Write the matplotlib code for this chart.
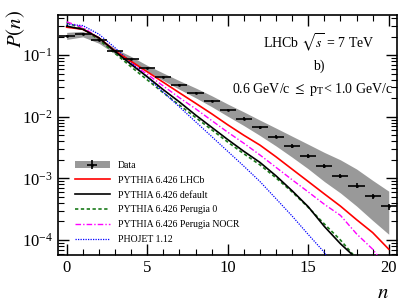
import numpy as np
import matplotlib
matplotlib.use("Agg")
import matplotlib.pyplot as plt
from matplotlib.patches import Patch
from matplotlib.ticker import MultipleLocator, LogLocator, NullFormatter

plt.rcParams['font.family'] = ['Liberation Serif', 'DejaVu Serif']
plt.rcParams['mathtext.fontset'] = 'stix'

# multiplicity n
n = np.arange(0, 21)

# LHCb data, P(n)
data = [0.206, 0.22, 0.173, 0.116, 0.085, 0.061, 0.0446, 0.0327, 0.0245, 0.0179,
        0.0128, 0.0093, 0.0067, 0.00474, 0.00335, 0.00231, 0.00159, 0.0011,
        0.00076, 0.00051, 0.00035]
data_err = [0.006, 0.006, 0.005, 0.003, 0.0025, 0.002, 0.0015, 0.0012, 0.001, 0.0008,
            0.0006, 0.0005, 0.0004, 0.0003, 0.00022, 0.00016, 0.00012, 0.00009,
            0.00007, 0.00005, 0.00004]
# total uncertainty band
band_hi = [0.234, 0.243, 0.192, 0.128, 0.0953, 0.0684, 0.0512, 0.0385, 0.0294, 0.0220,
           0.0161, 0.0120, 0.00883, 0.00655, 0.00484, 0.00358, 0.00264, 0.0020,
           0.00142, 0.00093, 0.00062]
band_lo = [0.180, 0.198, 0.156, 0.105, 0.0757, 0.0543, 0.0388, 0.0279, 0.0204, 0.0146,
           0.0102, 0.0072, 0.00497, 0.00336, 0.00221, 0.00143, 0.00089, 0.00058,
           0.000356, 0.000208, 0.000124]

# generators
lhcb = [0.284, 0.263, 0.191, 0.117, 0.0794, 0.0537, 0.0363, 0.0245, 0.0166, 0.0112,
        0.00741, 0.00501, 0.00347, 0.00224, 0.00141, 0.00089, 0.00056, 0.000355,
        0.000214, 0.000132, 7.1e-5]
default = [0.295, 0.263, 0.191, 0.115, 0.0708, 0.0447, 0.0275, 0.0174, 0.0107, 0.00676,
           0.00427, 0.00275, 0.00182, 0.0011, 0.00063, 0.000347, 0.000166, 8.7e-5,
           5.0e-5, 2.0e-5, 8e-6]
perugia0 = [0.339, 0.269, 0.178, 0.107, 0.0646, 0.0398, 0.0245, 0.0155, 0.00977, 0.00617,
            0.00389, 0.00251, 0.00166, 0.00102, 0.000603, 0.000339, 0.000182, 0.0001,
            5.0e-5, 2.0e-5, 8e-6]
nocr = [0.347, 0.282, 0.191, 0.117, 0.0741, 0.0490, 0.0316, 0.0204, 0.0135, 0.00871,
        0.00562, 0.00372, 0.0024, 0.00151, 0.00095, 0.000603, 0.00038, 0.000251,
        0.000126, 7.1e-5, 3.2e-5]
phojet = [0.316, 0.302, 0.219, 0.132, 0.0759, 0.0437, 0.0251, 0.0145, 0.00832, 0.00479,
          0.00275, 0.00158, 0.00089, 0.000468, 0.000245, 0.000123, 6.3e-5, 2.5e-5,
          1e-5, 4e-6, 1.6e-6]

fig = plt.figure(figsize=(4.19, 3.04), dpi=100)
ax = fig.add_axes([0.138, 0.161, 0.809, 0.79])

ax.fill_between(n, band_lo, band_hi, color='0.6', lw=0, zorder=1)
eb = ax.errorbar(n, data, yerr=data_err, xerr=0.5, fmt='o', color='black',
                 ms=2, mew=0, elinewidth=1.2, capsize=0, zorder=5)

l1, = ax.plot(n, lhcb, color='red', lw=1.2, zorder=4)
l2, = ax.plot(n, default, color='black', lw=1.2, zorder=4)
l3, = ax.plot(n, perugia0, color='#1a7a1a', lw=1.2, ls=(0, (2, 1.5)), zorder=3)
l4, = ax.plot(n, nocr, color='magenta', lw=1.0, ls=(0, (4, 1.5, 1, 1.5)), zorder=3)
l5, = ax.plot(n, phojet, color='blue', lw=0.9, ls=(0, (1, 1)), zorder=3)

ax.set_yscale('log')
ax.set_xlim(-0.55, 20.5)
ax.set_ylim(5.7e-5, 0.45)

ax.xaxis.set_major_locator(MultipleLocator(5))
ax.xaxis.set_minor_locator(MultipleLocator(1))
ax.yaxis.set_major_locator(LogLocator(base=10, numticks=10))
ax.yaxis.set_minor_locator(LogLocator(base=10, subs=np.arange(2, 10), numticks=20))
ax.yaxis.set_minor_formatter(NullFormatter())
ax.tick_params(which='both', direction='in', top=True, right=True, labelsize=12)
ax.tick_params(which='major', length=8, width=1)
ax.tick_params(which='minor', length=4, width=0.8)
for s in ax.spines.values():
    s.set_linewidth(1.2)

ax.set_ylabel(r'$P(n)$', fontsize=15)
ax.yaxis.set_label_coords(-0.09, 0.94)
ax.set_xlabel(r'$n$', fontsize=15, labelpad=0)
ax.xaxis.set_label_coords(0.96, -0.12)

ax.text(0.935, 0.885, r'LHCb $\sqrt{s}$ = 7 TeV', transform=ax.transAxes,
        ha='right', va='center', fontsize=10)
ax.text(0.77, 0.785, 'b)', transform=ax.transAxes, ha='center', va='center', fontsize=10)
ax.text(0.99, 0.69, r'0.6 GeV/c $\leq$ $\mathrm{p}_\mathrm{T}$< 1.0 GeV/c',
        transform=ax.transAxes, ha='right', va='center', fontsize=10)

data_handle = (Patch(facecolor='0.6', edgecolor='none'), eb)
ax.legend([data_handle, l1, l2, l3, l4, l5],
          ['Data', 'PYTHIA 6.426 LHCb', 'PYTHIA 6.426 default', 'PYTHIA 6.426 Perugia 0',
           'PYTHIA 6.426 Perugia NOCR', 'PHOJET 1.12'],
          loc='upper left', bbox_to_anchor=(0.03, 0.42), frameon=False, fontsize=7,
          handlelength=3.6, labelspacing=0.6, handletextpad=0.8, borderpad=0.2)

fig.savefig('out.png', dpi=100)
